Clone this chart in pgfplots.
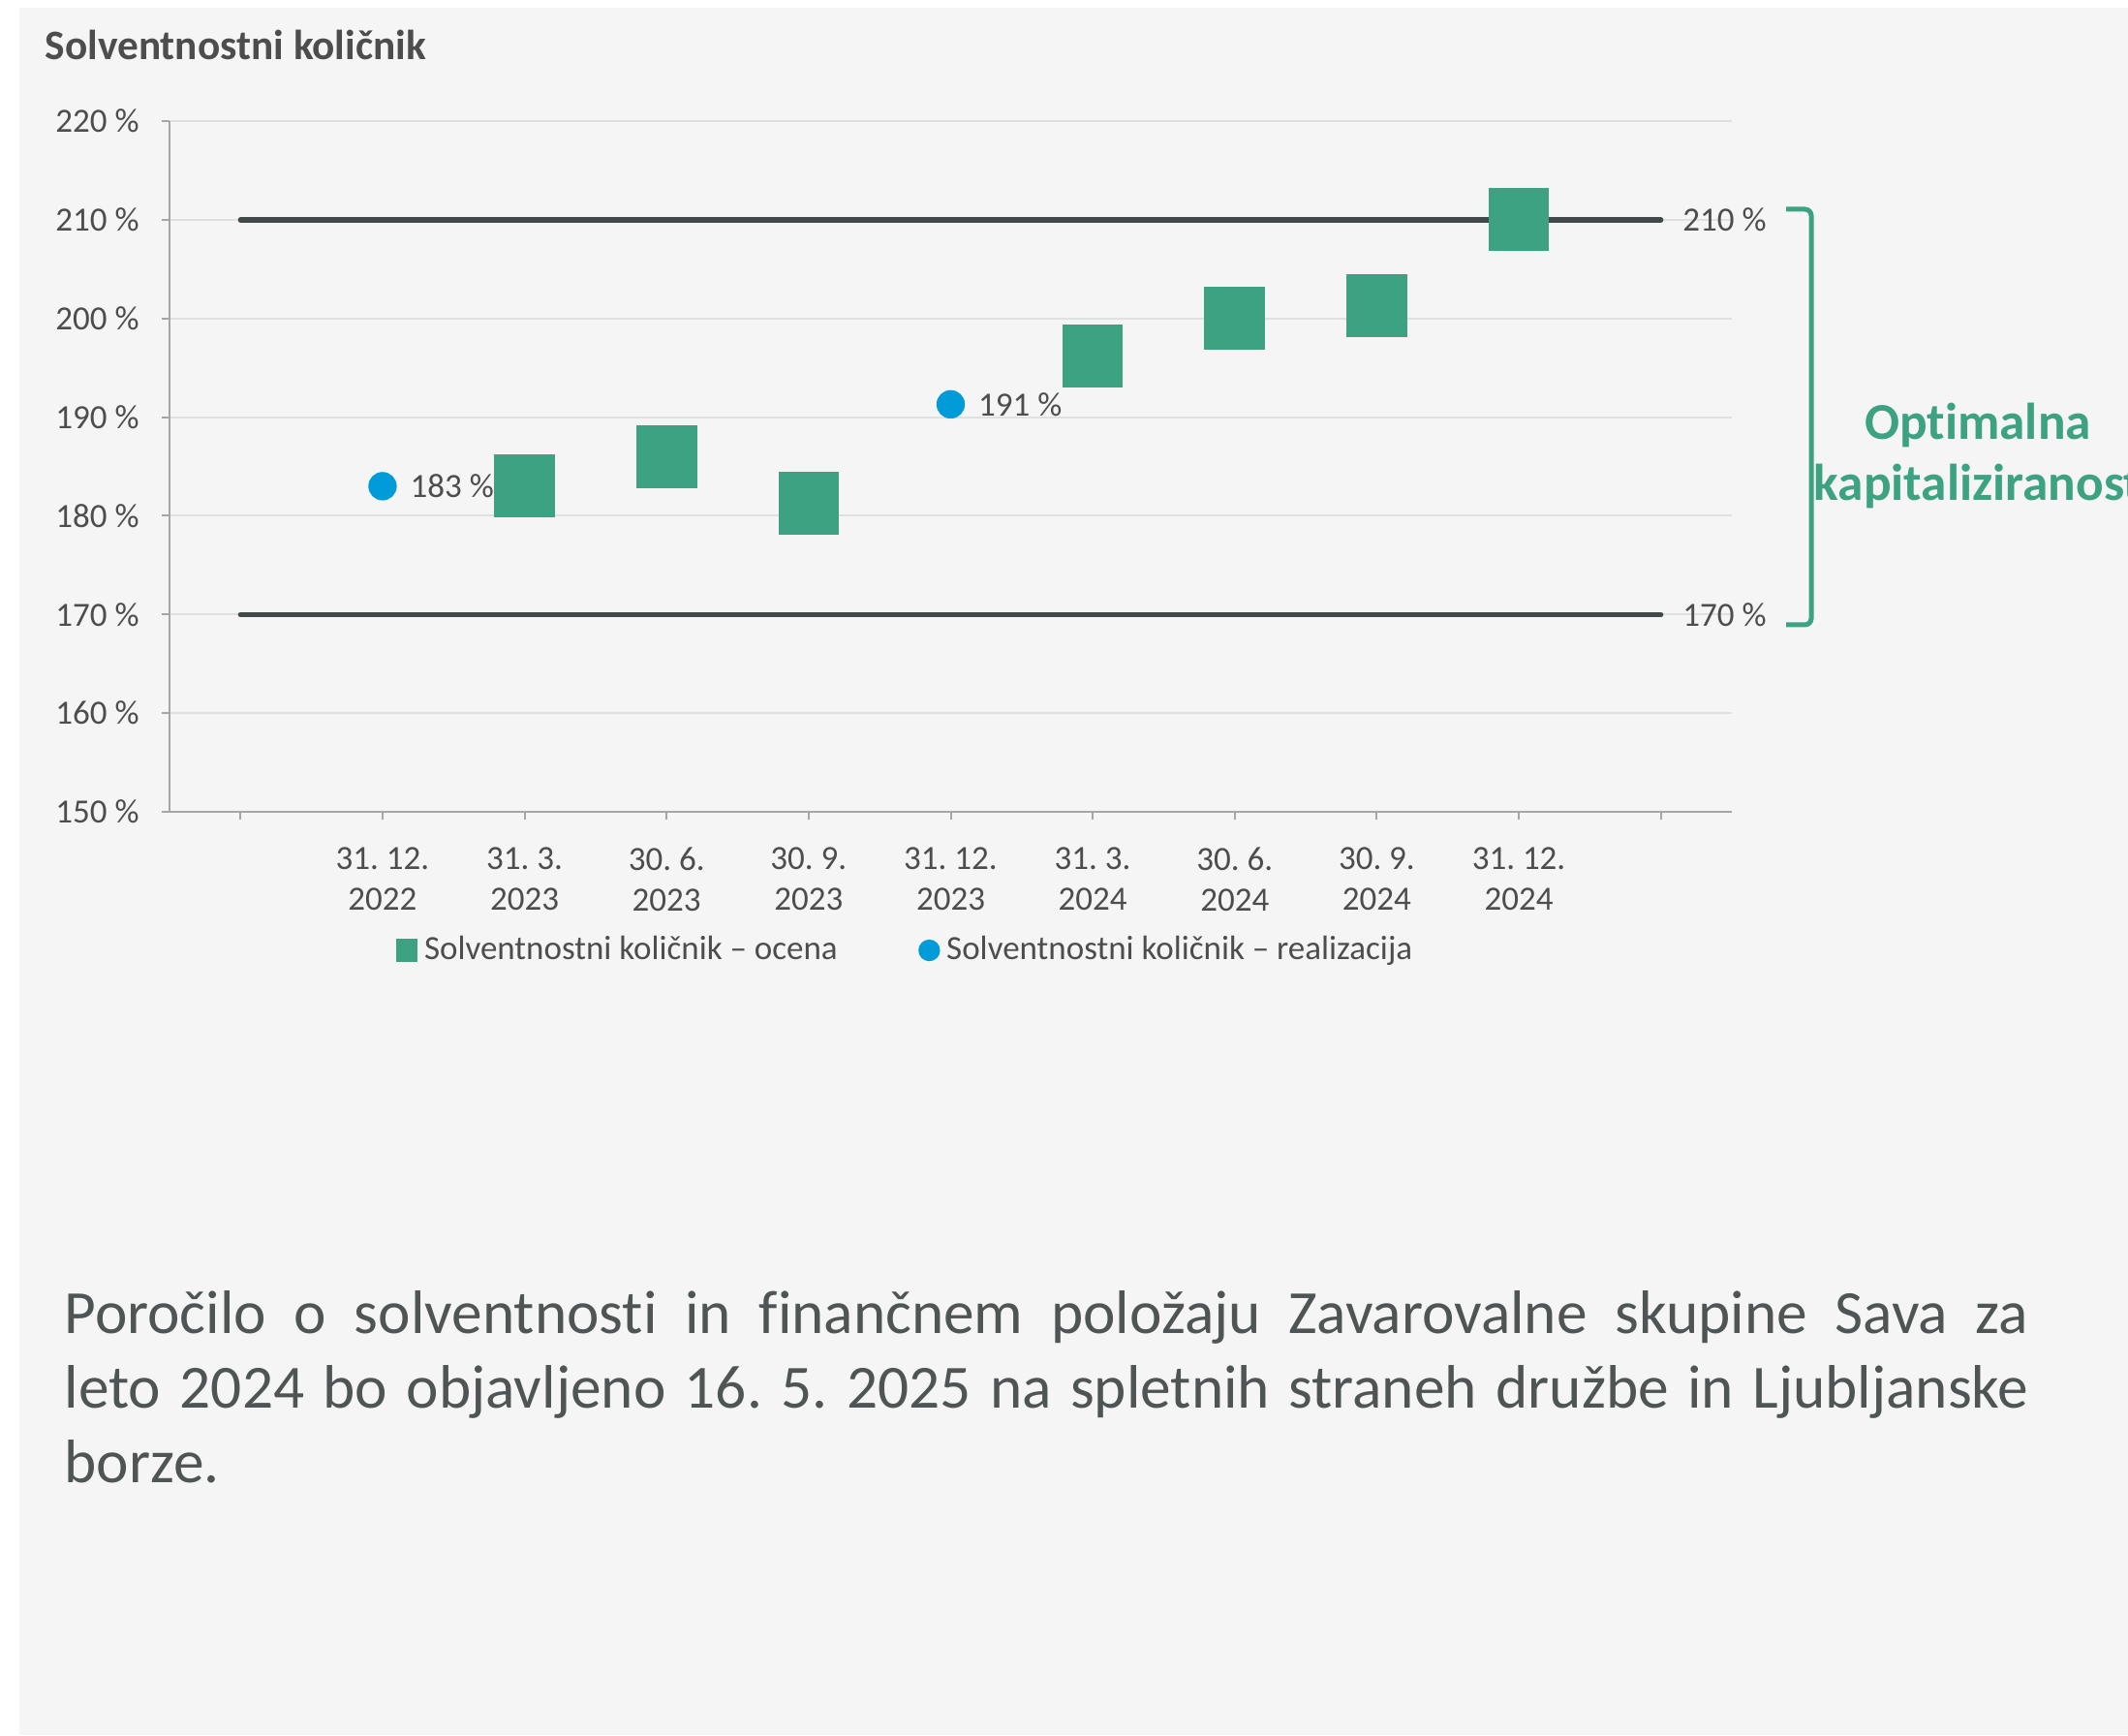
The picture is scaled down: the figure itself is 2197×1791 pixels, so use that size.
\documentclass[border=0pt]{standalone}
\usepackage{fontspec}
\setmainfont{Carlito}[Ligatures=NoCommon]
\usepackage{pgfplots}
\pgfplotsset{compat=1.18}
\definecolor{bg}{HTML}{F5F5F5}
\definecolor{sgreen}{HTML}{3CA282}
\definecolor{sblue}{HTML}{009BD8}
\definecolor{dline}{HTML}{434848}
\definecolor{tgray}{HTML}{4D4D4D}
\definecolor{gridc}{HTML}{E0E0E0}
\definecolor{axgray}{HTML}{A6A6A6}
\definecolor{ptext}{HTML}{4F5454}
\frenchspacing
\begin{document}
\begin{tikzpicture}[x=0.3pt,y=0.3pt]
\useasboundingbox (0,0) rectangle (2197,1791);
\fill[white] (0,0) rectangle (2197,1791);
\fill[bg] (20,0) rectangle (2197,1783);
\node[anchor=base west, inner sep=0, font=\bfseries\fontsize{13}{15}\selectfont, text=tgray] at (46,1729) {Solventnostni količnik};
\begin{axis}[
  scale only axis, width=483.9pt, height=213.9pt,
  at={(52.5pt,285.9pt)}, anchor=south west,
  xmin=-0.5, xmax=10.5, ymin=150, ymax=220,
  xtick={0,...,10},
  xticklabels={,{31. 12.\\2022},{31. 3.\\2023},{30. 6.\\2023},{30. 9.\\2023},{31. 12.\\2023},{31. 3.\\2024},{30. 6.\\2024},{30. 9.\\2024},{31. 12.\\2024},},
  ytick={150,160,...,220},
  yticklabels={150 \%,160 \%,170 \%,180 \%,190 \%,200 \%,210 \%,220 \%},
  axis lines=left,
  axis line style={-, axgray, line width=0.6pt},
  tick align=outside, major tick length=2.4pt,
  tick style={axgray, line width=0.6pt},
  ymajorgrids, grid style={gridc, line width=0.6pt},
  clip=false,
  ticklabel style={font=\fontsize{10.5}{12.6}\selectfont, text=tgray},
  xticklabel style={align=center, yshift=-5pt},
  yticklabel style={xshift=-3.5pt},
  legend style={at={(0.4724,-0.2006)}, anchor=center, draw=none, fill=none,
    legend columns=2, font=\fontsize{10.5}{12.6}\selectfont, text=tgray,
    /tikz/every even column/.append style={column sep=23pt}},
  legend cell align=left,
]
\addplot[only marks, mark=square*, mark size=9.2pt, color=sgreen,
  mark options={yscale=1.04, draw=none, fill=sgreen},
  legend image code/.code={\fill[sgreen] (0pt,-3.3pt) rectangle (6.3pt,3.3pt);}]
  coordinates {(2,183) (3,186) (4,181.3) (6,196.2) (7,200) (8,201.3) (9,210)};
\addlegendentry{Solventnostni količnik – ocena}
\addplot[only marks, mark=*, mark size=4.2pt, color=sblue,
  mark options={draw=none, fill=sblue},
  point meta=y,
  nodes near coords={\pgfmathprintnumber[assume math mode=true,fixed,precision=0]{\pgfplotspointmeta}~\%},
  every node near coord/.style={anchor=west, xshift=8.4pt, inner sep=0pt, font=\fontsize{10.5}{12.6}\selectfont, text=tgray},
  legend image code/.code={\fill[sblue] (3.15pt,0pt) circle (3.15pt);}]
  coordinates {(1,183) (5,191.3)};
\addlegendentry{Solventnostni količnik – realizacija}
\addplot[no marks, dline, line width=1.6pt, line cap=round, forget plot] coordinates {(0,170) (10,170)};
\addplot[no marks, dline, line width=1.6pt, line cap=round, forget plot] coordinates {(0,210) (10,210)};
\node[anchor=west, xshift=6.6pt, inner sep=0pt, font=\fontsize{10.5}{12.6}\selectfont, text=tgray] at (axis cs:10,210) {210 \%};
\node[anchor=west, xshift=6.6pt, inner sep=0pt, font=\fontsize{10.5}{12.6}\selectfont, text=tgray] at (axis cs:10,170) {170 \%};
\end{axis}
\draw[sgreen, line width=1.5pt, rounded corners=2pt] (1844,1575) -- (1870,1575) -- (1870,1146) -- (1844,1146);
\node[anchor=base, inner sep=0, font=\bfseries\fontsize{16}{19}\selectfont, text=sgreen] at (2042,1337) {Optimalna};
\node[anchor=base, inner sep=0, font=\bfseries\fontsize{16}{19}\selectfont, text=sgreen] at (2042,1274) {kapitaliziranost};
\node[anchor=base west, inner sep=0, font=\fontsize{19}{23}\selectfont, text=ptext] at (66,414.3) {\makebox[608.4pt][s]{Poročilo o solventnosti in finančnem položaju Zavarovalne skupine Sava za}};
\node[anchor=base west, inner sep=0, font=\fontsize{19}{23}\selectfont, text=ptext] at (66,337.7) {\makebox[608.4pt][s]{leto 2024 bo objavljeno 16. 5. 2025 na spletnih straneh družbe in Ljubljanske}};
\node[anchor=base west, inner sep=0, font=\fontsize{19}{23}\selectfont, text=ptext] at (66,261) {borze.};
\end{tikzpicture}
\end{document}
